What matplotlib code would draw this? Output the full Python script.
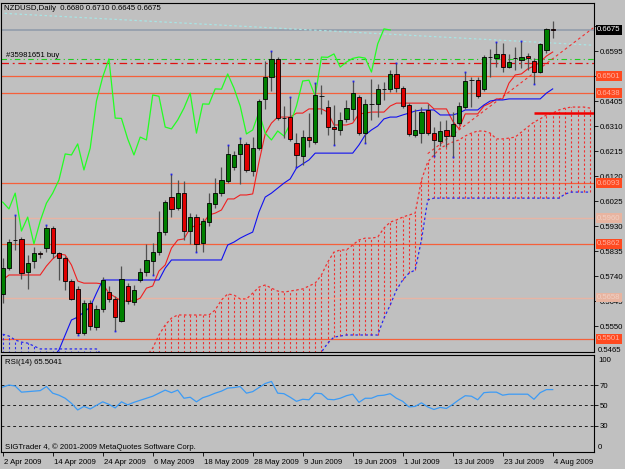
import matplotlib
matplotlib.use("Agg")
import matplotlib.pyplot as plt
import numpy as np
from matplotlib.transforms import blended_transform_factory, offset_copy

plt.rcParams['font.family'] = ['Liberation Sans', 'DejaVu Sans']

# ---------------- data ----------------
dates = ['2 Apr 2009', '14 Apr 2009', '24 Apr 2009', '6 May 2009', '18 May 2009', '28 May 2009',
         '9 Jun 2009', '19 Jun 2009', '1 Jul 2009', '13 Jul 2009', '23 Jul 2009', '4 Aug 2009']
date_bars = [0, 8, 16, 24, 32, 40, 48, 56, 64, 72, 80, 88]

opens = [.5672, .5770, .5877, .5881, .5755, .5797, .5827, .5846, .5922, .5827,
         .5808, .5721, .5691, .5523, .5637, .5546, .5615, .5679, .5653, .5569,
         .5702, .5641, .5725, .5755, .5797, .5831, .5907, .6040, .5998, .6055,
         .5911, .5964, .5865, .5945, .6014, .6055, .6101, .6154, .6204, .6242,
         .6139, .6226, .6413, .6496, .6565, .6340, .6344, .6245, .6196, .6268,
         .6249, .6424, .6382, .6306, .6295, .6337, .6375, .6420, .6283, .6394,
         .6394, .6451, .6451, .6508, .6454, .6390, .6276, .6283, .6371, .6283,
         .6253, .6295, .6272, .6321, .6382, .6485, .6485, .6451, .6572, .6568,
         .6584, .6534, .6568, .6561, .6576, .6557, .6515, .6599, .6680]
highs = [.5808, .5881, .5972, .5888, .5820, .5850, .5835, .5934, .5930, .5831,
         .5816, .5729, .5702, .5649, .5649, .5630, .5736, .5702, .5664, .5778,
         .5713, .5706, .5770, .5862, .5865, .5987, .6029, .6128, .6105, .6101,
         .5979, .5976, .5960, .6055, .6112, .6154, .6238, .6215, .6264, .6249,
         .6268, .6413, .6557, .6595, .6572, .6386, .6420, .6283, .6295, .6359,
         .6473, .6466, .6409, .6390, .6363, .6409, .6481, .6428, .6413, .6489,
         .6470, .6477, .6523, .6549, .6462, .6397, .6375, .6382, .6394, .6306,
         .6329, .6333, .6363, .6401, .6515, .6496, .6496, .6580, .6603, .6629,
         .6625, .6584, .6610, .6633, .6587, .6568, .6625, .6682, .6710]
lows = [.5637, .5763, .5839, .5729, .5691, .5770, .5808, .5831, .5808, .5725,
        .5687, .5649, .5516, .5516, .5535, .5535, .5603, .5641, .5531, .5565,
        .5634, .5630, .5717, .5740, .5744, .5820, .5896, .5964, .5991, .5877,
        .5862, .5831, .5831, .5930, .5998, .6044, .6093, .6143, .6090, .6135,
        .6120, .6219, .6375, .6443, .6333, .6264, .6253, .6154, .6162, .6230,
        .6242, .6356, .6276, .6238, .6276, .6325, .6333, .6276, .6245, .6333,
        .6344, .6409, .6439, .6439, .6378, .6272, .6268, .6245, .6276, .6196,
        .6234, .6230, .6192, .6314, .6375, .6382, .6416, .6443, .6496, .6534,
        .6515, .6530, .6523, .6530, .6523, .6470, .6511, .6587, .6645]
closes = [.5770, .5869, .5876, .5751, .5789, .5827, .5825, .5922, .5827, .5808,
          .5721, .5653, .5523, .5637, .5550, .5615, .5725, .5653, .5584, .5729,
          .5645, .5687, .5755, .5801, .5831, .5907, .6021, .5995, .6055, .5911,
          .5964, .5862, .5949, .6017, .6055, .6105, .6204, .6200, .6242, .6143,
          .6226, .6405, .6496, .6565, .6340, .6339, .6261, .6200, .6268, .6257,
          .6428, .6423, .6306, .6299, .6333, .6378, .6435, .6283, .6394, .6393,
          .6451, .6450, .6508, .6454, .6386, .6280, .6295, .6363, .6283, .6257,
          .6291, .6272, .6318, .6386, .6481, .6484, .6424, .6572, .6571, .6584,
          .6534, .6553, .6567, .6572, .6568, .6515, .6622, .6679, .6675]

tenkan = [.5725, .5744, .5744, .5744, .5744, .5744, .5744, .5778, .5805, .5824,
          .5820, .5782, .5721, .5713, .5713, .5713, .5710, .5675, .5660, .5645,
          .5645, .5645, .5656, .5694, .5702, .5759, .5782, .5846, .5877, .5881,
          .5922, .5934, .5938, .5972, .5979, .5991, .6033, .6033, .6048, .6048,
          .6052, .6173, .6280, .6321, .6344, .6344, .6344, .6359, .6359, .6375,
          .6375, .6375, .6363, .6314, .6314, .6314, .6321, .6356, .6359, .6363,
          .6363, .6363, .6386, .6397, .6397, .6397, .6397, .6397, .6397, .6375,
          .6375, .6375, .6329, .6299, .6356, .6356, .6356, .6386, .6397, .6413,
          .6413, .6473, .6504, .6508, .6527, .6538, .6553, .6576, .6591]
kijun = [.5405, .5405, .5405, .5405, .5405, .5405, .5405, .5405, .5430, .5459,
         .5516, .5573, .5584, .5603, .5622, .5675, .5725, .5725, .5725, .5725,
         .5725, .5725, .5725, .5725, .5725, .5725, .5770, .5801, .5801, .5801,
         .5801, .5801, .5801, .5801, .5801, .5801, .5858, .5869, .5884, .5896,
         .5907, .5983, .6040, .6055, .6074, .6093, .6109, .6150, .6166, .6181,
         .6207, .6207, .6207, .6207, .6207, .6207, .6207, .6238, .6276, .6295,
         .6310, .6337, .6344, .6344, .6352, .6359, .6367, .6371, .6371, .6371,
         .6352, .6352, .6352, .6359, .6371, .6371, .6371, .6390, .6405, .6409,
         .6409, .6413, .6413, .6413, .6413, .6413, .6413, .6435, .6451]
# Senkou spans, bars 0..94 (already shifted 26 bars ahead)
span_a = [.5380] * 22 + [.5420, .5436, .5466, .5516, .5554, .5580, .5592, .5592,
          .5592, .5592, .5592, .5592, .5611, .5649, .5672, .5668, .5653, .5653,
          .5675, .5698, .5706, .5694, .5683, .5679, .5683, .5687, .5691, .5702,
          .5713, .5744, .5793, .5831, .5839, .5839, .5858, .5877, .5884, .5884,
          .5888, .5922, .5945, .5953, .5964, .5972, .5979, .6105, .6173, .6200,
          .6226, .6238, .6249, .6257, .6272, .6283, .6291, .6291, .6283, .6261,
          .6261, .6264, .6268, .6287, .6306, .6325, .6337, .6352, .6359, .6371,
          .6378, .6382, .6382, .6382, .6378]
span_b = [.5519, .5512, .5497, .5489, .5485, .5474] + [.5463] * 10 + [.5436] + \
         [.5400] * 34 + [.5451, .5485, .5508, .5512] + [.5516] * 6 + \
         [.5580, .5630, .5687, .5725, .5751, .5763, .5877, .6029] + [.6036] * 21 + \
         [.6052, .6059, .6059, .6059, .6059]

# small blue tip markers seen on some candle extremes
tip_high_bars = [2, 7, 27, 36, 38, 43, 46, 50, 56, 63, 74, 79, 83]
tip_low_bars = [12, 18, 24, 31, 47, 53, 58, 69, 72, 85]

rsi = [68, 70, 69, 63, 63.5, 64, 64.5, 68.5, 62, 60,
       57, 52, 45.5, 49, 46.5, 50, 53.5, 51, 47.5, 53.5,
       50.5, 53, 55, 57, 59, 62, 65, 62.5, 65, 57,
       58, 53.5, 57.5, 59.5, 62, 64, 67, 67.5, 68.5, 62,
       63.5, 67.5, 71.5, 73.5, 62, 61.5, 58, 54, 56, 55.5,
       62, 61.5, 56, 55.5, 57, 59.5, 61, 53, 57, 57,
       59.5, 60, 61.5, 57, 54, 48.5, 49, 52.5, 48.5, 46,
       48, 47, 51, 55.5, 59.5, 59, 55.5, 62.5, 63, 63,
       60, 61, 61, 61, 61, 56, 62.5, 65.5, 65.5041]

levels_strong = [0.6500, 0.6435, 0.6093, 0.5862, 0.5501]
levels_strong_labels = ['0.6501', '0.6438', '0.6093', '0.5862', '0.5501']
levels_pale = [0.5960, 0.5658]
levels_pale_labels = ['0.5960', '0.5658']
bid_price = 0.6675
order_price = 0.6548
order_tp = 0.6563
order_label = '#35981651 buy'
trend_cyan_bars, trend_cyan_prices = [-0.5, 94.5], [0.6739, 0.6617]
trend_red_bars, trend_red_prices = [68, 94.5], [0.6205, 0.6683]
red_level, red_level_from = 0.6359, 85.0
price_ticks = [0.6690, 0.6595, 0.6500, 0.6405, 0.6310, 0.6215, 0.6120, 0.6025,
               0.5930, 0.5835, 0.5740, 0.5645, 0.5550]
hidden_tick_labels = [0.6690, 0.6500]   # covered by the boxes in the original
price_min_label = '0.5465'

O, Hh, Ll, C = map(np.array, (opens, highs, lows, closes))
idx = np.arange(len(C))
fidx = np.arange(len(span_a))
A, B = np.array(span_a), np.array(span_b)

# ---------------- layout ----------------
W, Hpx = 625, 469
BG = '#C0C0C0'
fig = plt.figure(figsize=(W / 100, Hpx / 100), dpi=100, facecolor=BG)
fx = lambda p: p / W
fy = lambda p: 1 - p / Hpx
L0, R0 = 0.5, 593.5
ax = fig.add_axes([fx(L0), fy(352), fx(R0) - fx(L0), fy(3) - fy(352)], facecolor=BG)
ax2 = fig.add_axes([fx(L0), fy(452), fx(R0) - fx(L0), fy(355) - fy(452)], facecolor=BG)
xmin, xmax = (L0 - 2.7) / 6.25, (R0 - 2.7) / 6.25
for a in (ax, ax2):
    a.set_xlim(xmin, xmax)
    for s in a.spines.values():
        s.set_color('black')
        s.set_linewidth(0.8)
ax.set_ylim(0.54514, 0.67774)
ax2.set_ylim(4.2, 99.5)

FS = 5.6

# ---------------- horizontal objects ----------------
for lv in levels_strong:
    ax.axhline(lv, color='#F5603A', lw=0.9, zorder=1)
for lv in levels_pale:
    ax.axhline(lv, color='#E8B4A4', lw=1.0, zorder=1)
ax.axhline(bid_price, color='#98A2AE', lw=1.4, zorder=1)
ax.axhline(order_tp, color='#22CC22', lw=0.8, ls=(0, (5, 3, 1, 3)), zorder=1)
ax.axhline(order_price, color='#E01010', lw=0.9, ls=(0, (6, 3, 1.5, 3)), zorder=1)
ax.plot(trend_cyan_bars, trend_cyan_prices, color='#A8E4E4', lw=0.9, ls=(0, (2, 2)), zorder=1)
ax.plot(trend_red_bars, trend_red_prices, color='#F03030', lw=0.8, ls=(0, (2.5, 2.5)), zorder=1)
ax.hlines(red_level, red_level_from, xmax, color='#F00000', lw=1.8, zorder=3)

# ---------------- ichimoku cloud ----------------
up = A >= B
ax.vlines(fidx[up], B[up], A[up], colors='#F03030', lw=0.8, linestyles=(0, (2, 2)), zorder=2)
ax.vlines(fidx[~up], A[~up], B[~up], colors='#3030F0', lw=0.8, linestyles=(0, (2, 2)), zorder=2)
ax.plot(fidx, A, color='#F03030', lw=0.9, ls=(0, (2, 2)), zorder=2)
ax.plot(fidx, B, color='#2828F0', lw=0.9, ls=(0, (2, 2)), zorder=2)

ax.plot(idx, tenkan, color='#F02020', lw=0.8, zorder=3)
ax.plot(idx, kijun, color='#1010F0', lw=0.8, zorder=3)
ax.plot(idx[:len(C) - 26], C[26:], color='#22FF22', lw=0.9, zorder=3)

# ---------------- candles ----------------
ax.vlines(idx, Ll, Hh, color='#505050', lw=0.9, zorder=4)
bull = C > O
bear = ~bull
ax.bar(idx[bull], (C - O)[bull], bottom=O[bull], width=0.68, color='#008000',
       edgecolor='black', lw=0.6, zorder=5)
ax.bar(idx[bear], np.maximum(O - C, 0.00001)[bear], bottom=C[bear], width=0.68, color='#E00000',
       edgecolor='black', lw=0.6, zorder=5)
ax.plot(tip_high_bars, Hh[tip_high_bars], ls='none', marker='s', ms=1.3, color='#2020F0',
        mew=0, zorder=6)
ax.plot(tip_low_bars, Ll[tip_low_bars], ls='none', marker='s', ms=1.3, color='#2020F0',
        mew=0, zorder=6)

# ---------------- price axis ----------------
ax.yaxis.tick_right()
ax.set_yticks(price_ticks)
ax.set_yticklabels(['' if t in hidden_tick_labels else f'{t:.4f}' for t in price_ticks],
                   fontsize=FS)
ax.tick_params(axis='y', direction='out', length=3, width=0.6, pad=1.5, colors='black')
ax.set_xticks([])
tr = blended_transform_factory(ax.transAxes, ax.transData)
boxx = 1 + 3.5 / (R0 - L0)
for lv, lab in zip(levels_strong, levels_strong_labels):
    ax.text(boxx, lv, lab, transform=tr, fontsize=FS, color='#FFB0A0', ha='left', va='center',
            bbox=dict(boxstyle='square,pad=0.15', fc='#FF4A20', ec='none'), clip_on=False, zorder=10)
for lv, lab in zip(levels_pale, levels_pale_labels):
    ax.text(boxx, lv, lab, transform=tr, fontsize=FS, color='#F0D0C4', ha='left', va='center',
            bbox=dict(boxstyle='square,pad=0.15', fc='#E8B4A0', ec='none'), clip_on=False, zorder=10)
ax.text(boxx, bid_price, f'{C[-1]:.4f}', transform=tr, fontsize=FS, color='white', ha='left',
        va='center', bbox=dict(boxstyle='square,pad=0.15', fc='black', ec='none'),
        clip_on=False, zorder=10)
fig.text(fx(598), fy(350), price_min_label, fontsize=FS, va='center', ha='left')

# order label
ax.text(0.6, order_tp + 0.0003, order_label, fontsize=FS, color='black', ha='left', va='bottom', zorder=6)

# title
fig.text(fx(4), fy(9), f'NZDUSD,Daily  {O[-1]:.4f} {Hh[-1]:.4f} {Ll[-1]:.4f} {C[-1]:.4f}',
         fontsize=FS, color='black', va='center', ha='left')

# ---------------- RSI ----------------
for lv in (70, 50, 30):
    ax2.axhline(lv, color='#202020', lw=0.7, ls=(0, (3, 3)))
ax2.plot(idx, rsi, color='#3C9BF5', lw=0.9)
ax2.yaxis.tick_right()
ax2.set_yticks([70, 50, 30])
ax2.set_yticklabels(['70', '50', '30'], fontsize=FS)
ax2.tick_params(axis='y', direction='out', length=3, width=0.6, pad=1.5)
fig.text(fx(598), fy(361), '100', fontsize=FS, va='center', ha='left')
fig.text(fx(598), fy(447), '0', fontsize=FS, va='center', ha='left')
fig.text(fx(5), fy(363), f'RSI(14) {rsi[-1]:.4f}', fontsize=FS, va='center', ha='left')
fig.text(fx(5), fy(447), 'SIGTrader 4, \u00a9 2001-2009 MetaQuotes Software Corp.', fontsize=FS,
         va='center', ha='left')

ax2.set_xticks(date_bars)
ax2.set_xticklabels(dates, fontsize=FS, ha='left')
ax2.tick_params(axis='x', direction='out', length=3, width=0.6, pad=2)
for lab in ax2.get_xticklabels():
    lab.set_transform(offset_copy(lab.get_transform(), fig=fig, x=1.0, y=0, units='dots'))

fig.savefig('out.png', dpi=100, facecolor=BG)
